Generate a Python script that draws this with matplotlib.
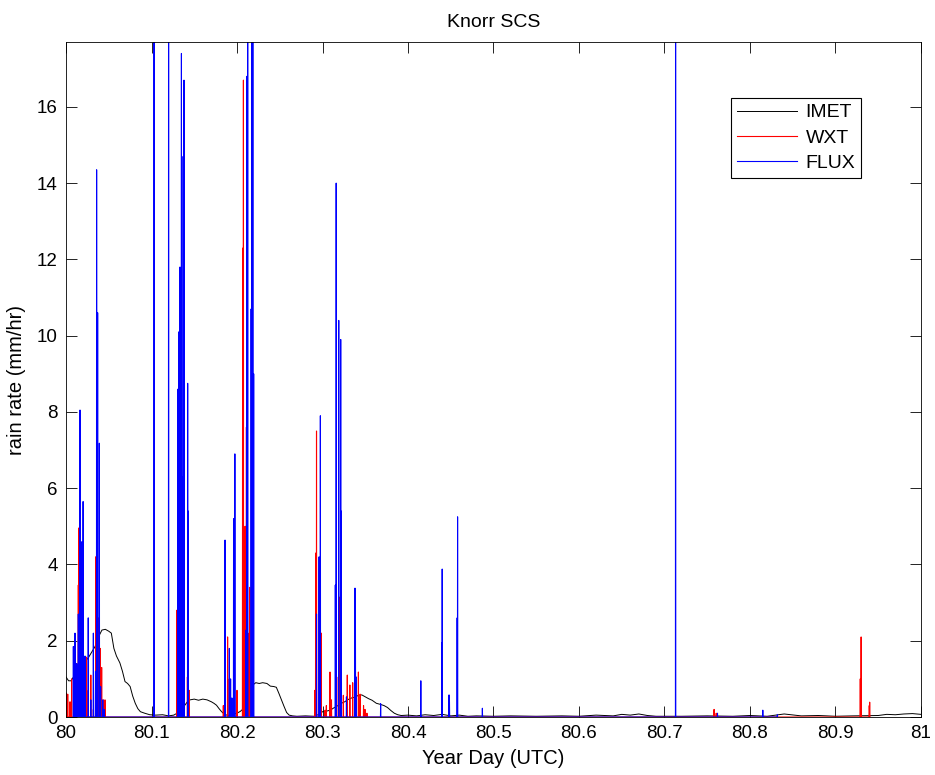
import numpy as np
import matplotlib
matplotlib.use("Agg")
import matplotlib.pyplot as plt

plt.rcParams['font.family'] = ['Liberation Sans', 'DejaVu Sans']

# ---------------- data ----------------
imet_t = [80.000, 80.003, 80.006, 80.010, 80.014, 80.018, 80.022, 80.026, 80.030, 80.034,
          80.038, 80.042, 80.046, 80.050, 80.053, 80.056, 80.059, 80.063, 80.066, 80.069,
          80.072, 80.075, 80.078, 80.081, 80.084, 80.087, 80.092, 80.098, 80.105, 80.113,
          80.120, 80.126, 80.130, 80.133, 80.136, 80.139, 80.142, 80.145, 80.150, 80.155,
          80.160, 80.165, 80.170, 80.173, 80.176, 80.179, 80.182, 80.185, 80.188, 80.192,
          80.196, 80.200, 80.204, 80.207, 80.210, 80.213, 80.216, 80.219, 80.222, 80.226,
          80.230, 80.235, 80.239, 80.243, 80.246, 80.249, 80.252, 80.255, 80.258, 80.261,
          80.265, 80.270, 80.280, 80.290, 80.297, 80.300, 80.304, 80.309, 80.314, 80.318,
          80.322, 80.326, 80.330, 80.334, 80.338, 80.342, 80.346, 80.350, 80.354, 80.358,
          80.363, 80.368, 80.372, 80.376, 80.380, 80.384, 80.388, 80.392, 80.400, 80.410,
          80.420, 80.430, 80.440, 80.450, 80.460, 80.470, 80.480, 80.500, 80.520, 80.550,
          80.580, 80.600, 80.620, 80.640, 80.650, 80.660, 80.670, 80.680, 80.690, 80.720,
          80.750, 80.780, 80.800, 80.820, 80.840, 80.860, 80.880, 80.900, 80.920, 80.950,
          80.960, 80.970, 80.980, 80.990, 81.000]
imet_v = [1.05, 0.95, 0.95, 1.10, 1.25, 1.35, 1.45, 1.55, 1.70, 1.85,
          2.10, 2.28, 2.30, 2.25, 2.20, 1.80, 1.60, 1.42, 1.20, 0.93,
          0.88, 0.80, 0.55, 0.36, 0.22, 0.14, 0.10, 0.06, 0.05, 0.06,
          0.03, 0.05, 0.10, 0.14, 0.22, 0.31, 0.40, 0.45, 0.47, 0.44,
          0.47, 0.45, 0.40, 0.36, 0.31, 0.22, 0.14, 0.08, 0.05, 0.04,
          0.08, 0.10, 0.15, 0.21, 0.40, 0.55, 0.70, 0.85, 0.90, 0.88,
          0.90, 0.88, 0.81, 0.80, 0.78, 0.62, 0.45, 0.28, 0.12, 0.05,
          0.03, 0.02, 0.03, 0.02, 0.08, 0.14, 0.15, 0.18, 0.25, 0.30,
          0.36, 0.40, 0.46, 0.50, 0.52, 0.57, 0.58, 0.53, 0.48, 0.44,
          0.36, 0.33, 0.30, 0.25, 0.17, 0.10, 0.06, 0.04, 0.05, 0.03,
          0.06, 0.04, 0.07, 0.03, 0.05, 0.02, 0.03, 0.02, 0.03, 0.02,
          0.03, 0.02, 0.05, 0.03, 0.07, 0.05, 0.08, 0.04, 0.02, 0.02,
          0.03, 0.02, 0.04, 0.02, 0.08, 0.03, 0.04, 0.02, 0.03, 0.04,
          0.07, 0.06, 0.08, 0.09, 0.07]

wxt_t = [80.0005, 80.002, 80.0047, 80.0066, 80.0105, 80.0125, 80.0144, 80.0152, 80.0164, 80.0175,
         80.0200, 80.0220, 80.0240, 80.0260, 80.0290, 80.0320, 80.0347, 80.0358, 80.0378, 80.0400,
         80.0417, 80.0437, 80.0456,
         80.1295, 80.1310, 80.1325, 80.1340, 80.1350, 80.1420, 80.1440,
         80.1840, 80.1890, 80.1910, 80.1970, 80.2000, 80.2065, 80.2070, 80.2075, 80.2094, 80.2105,
         80.2110, 80.2130, 80.2150, 80.2165, 80.2180,
         80.2910, 80.2920, 80.2930, 80.2963, 80.2986, 80.3030, 80.3045, 80.3088, 80.3105, 80.3166,
         80.3205, 80.3216, 80.3244, 80.3290, 80.3320, 80.3353, 80.3380, 80.3420, 80.3440, 80.3480,
         80.3497, 80.3520,
         80.7580, 80.7605, 80.9290, 80.9300, 80.9395, 80.9400]
wxt_v = [0.63, 0.60, 0.40, 1.00, 0.20, 1.40, 3.46, 4.96, 4.30, 3.07,
         1.60, 1.10, 1.57, 0.70, 1.10, 0.20, 4.20, 3.40, 2.60, 1.80,
         1.30, 0.45, 0.45,
         2.80, 2.80, 2.80, 2.20, 0.20, 1.05, 0.70,
         0.30, 2.10, 1.00, 1.80, 0.70, 8.30, 12.30, 16.70, 5.00, 5.00,
         7.60, 2.20, 3.40, 1.15, 0.70,
         0.70, 4.30, 7.50, 3.90, 2.20, 0.18, 0.30, 1.18, 0.45, 1.05,
         3.15, 1.90, 0.57, 1.10, 0.84, 0.90, 0.57, 1.18, 0.60, 0.30,
         0.20, 0.10,
         0.20, 0.10, 1.00, 2.10, 0.30, 0.39]

flux_t = [80.0086, 80.0105, 80.0125, 80.0144, 80.0164, 80.0187, 80.0200, 80.0222, 80.0260, 80.0290,
          80.0320, 80.0345, 80.0358, 80.0370, 80.0390, 80.0405, 80.0430, 80.0445,
          80.1030, 80.1200,
          80.1310, 80.1320, 80.1333, 80.1350, 80.1365, 80.1370, 80.1380, 80.1423, 80.1430,
          80.1860, 80.1910, 80.1925, 80.1940, 80.1960, 80.1975,
          80.2105, 80.2115, 80.2125, 80.2165, 80.2175, 80.2185, 80.2195,
          80.2930, 80.2960, 80.2975, 80.3150, 80.3160, 80.3190, 80.3213, 80.3220, 80.3280, 80.3380,
          80.3385, 80.3395, 80.3680, 80.4150, 80.4395, 80.4400, 80.4480, 80.4485, 80.4575, 80.4580,
          80.4870, 80.7130, 80.7620, 80.8150, 80.8320]
flux_v = [1.85, 2.20, 1.40, 2.70, 8.05, 4.60, 5.65, 1.60, 2.60, 0.45,
          2.20, 1.20, 14.35, 10.60, 7.18, 0.80, 0.45, 0.20,
          25.0, 25.0,
          8.60, 10.10, 11.80, 17.40, 6.30, 14.70, 16.70, 8.75, 5.40,
          4.64, 1.80, 1.00, 0.50, 5.20, 6.90,
          2.28, 16.80, 25.0, 10.70, 25.0, 25.0, 9.00,
          2.70, 4.20, 7.90, 3.46, 14.00, 10.40, 9.90, 5.40, 0.53, 3.38,
          2.80, 1.05, 0.35, 0.95, 1.94, 3.88, 0.58, 0.40, 2.60, 5.25,
          0.23, 25.0, 0.10, 0.18, 0.06]

x_ticks = [80, 80.1, 80.2, 80.3, 80.4, 80.5, 80.6, 80.7, 80.8, 80.9, 81]
x_ticklabels = ['80', '80.1', '80.2', '80.3', '80.4', '80.5', '80.6', '80.7', '80.8', '80.9', '81']
y_ticks = [0, 2, 4, 6, 8, 10, 12, 14, 16]


def spikes(t, v, half_width=0.0002):
    """Turn spike samples into a zero-based line (sample, peak, sample)."""
    t = np.asarray(t)
    v = np.asarray(v)
    order = np.argsort(t)
    xs, ys = [], []
    for ti, vi in zip(t[order], v[order]):
        xs += [ti - half_width, ti, ti + half_width]
        ys += [0.0, vi, 0.0]
    return np.array(xs), np.array(ys)


fig = plt.figure(figsize=(9.35, 7.75), dpi=100)
ax = fig.add_axes([0.0706, 0.0748, 0.9144, 0.871])

wx, wy = spikes(wxt_t, wxt_v)
fx, fy = spikes(flux_t, flux_v)
ax.plot(imet_t, imet_v, color='k', lw=0.7, label='IMET')
ax.plot(wx, wy, color='r', lw=0.8, label='WXT')
ax.plot(fx, fy, color='b', lw=0.8, label='FLUX')

ax.set_xlim(80, 81)
ax.set_ylim(0, 17.7)
ax.set_xticks(x_ticks)
ax.set_xticklabels(x_ticklabels)
ax.set_yticks(y_ticks)
ax.tick_params(direction='in', length=8, width=0.6, top=True, right=True,
               labelsize=13.5, pad=6)
for s in ax.spines.values():
    s.set_linewidth(0.6)

ax.set_title('Knorr SCS', fontsize=14, pad=11)
ax.set_xlabel('Year Day (UTC)', fontsize=14.5, labelpad=5)
ax.set_ylabel('rain rate (mm/hr)', fontsize=14.5, labelpad=8)

leg = ax.legend(loc='upper right', bbox_to_anchor=(0.930, 0.917), fontsize=14,
                fancybox=False, framealpha=1, edgecolor='k', handlelength=3.1,
                borderpad=0.3, labelspacing=0.4, handletextpad=0.45, borderaxespad=0)
leg.get_frame().set_linewidth(0.8)

fig.savefig('out.png', dpi=100)
